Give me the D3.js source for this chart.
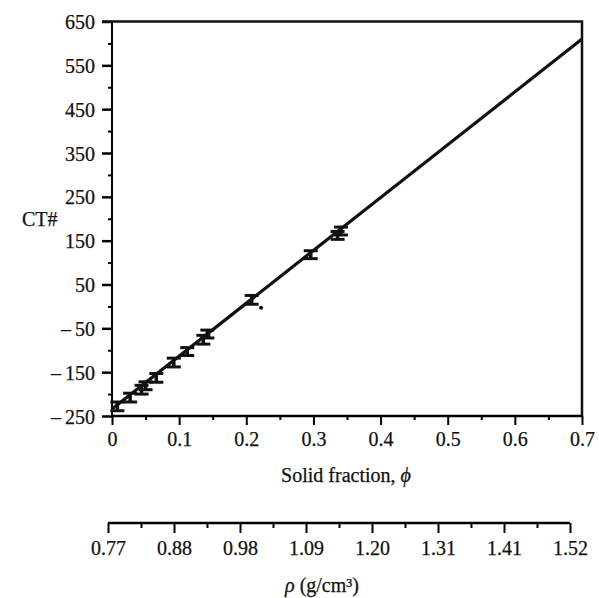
<!DOCTYPE html>
<html>
<head>
<meta charset="utf-8">
<script src="https://cdn.jsdelivr.net/npm/d3@7"></script>
<style>
  body { margin: 0; background: #fff; }
  svg text { font-family: "Liberation Serif", "DejaVu Serif", serif; fill: #111; stroke: #111; stroke-width: 0.25px; }
</style>
</head>
<body>
<div id="chart"></div>
<script>
// measured points: solid fraction, CT number, half error
const phi = [0.008, 0.027, 0.044, 0.050, 0.066, 0.092, 0.112, 0.136, 0.142, 0.208, 0.296, 0.336, 0.341];
const ctNum = [-228, -208, -190, -181, -163, -128, -103, -76, -63, 15, 118, 162, 172];
const ctErr = [10, 10, 10, 9, 10, 10, 9, 10, 9, 10, 9, 9, 9];

// stray single point without error bar
const strayPhi = [0.222];
const strayCt = [-3];

// fitted straight line end points
const fitPhi = [0, 0.7];
const fitCt = [-234, 610];

const yTicks = [650, 550, 450, 350, 250, 150, 50, -50, -150, -250];
const xTicks = [0, 0.1, 0.2, 0.3, 0.4, 0.5, 0.6, 0.7];
const rhoLabels = ["0.77", "0.88", "0.98", "1.09", "1.20", "1.31", "1.41", "1.52"];

const width = 599;
const height = 598;
const fs = 20;

const svg = d3.select("#chart")
  .append("svg")
  .attr("width", width)
  .attr("height", height);

// scales
const x = d3.scaleLinear().domain([0, 0.7]).range([112, 582]);
const y = d3.scaleLinear().domain([-250, 650]).range([416, 21.5]);
const rhoX = d3.scaleLinear().domain([0, rhoLabels.length - 1]).range([108, 570]);

// left axis, major + minor
const yMinor = yTicks.slice(1).map(v => v + 50);
svg.append("g")
  .attr("transform", "translate(112,0)")
  .call(d3.axisLeft(y).tickValues(yMinor).tickSize(4).tickFormat(""))
  .call(g => g.select(".domain").remove())
  .selectAll("line").attr("stroke-width", 2);

svg.append("g")
  .attr("transform", "translate(112,0)")
  .call(d3.axisLeft(y).tickValues(yTicks).tickSize(10).tickPadding(7)
    .tickFormat(d => d < 0 ? "\u2013\u2009" + Math.abs(d) : d))
  .call(g => g.select(".domain").attr("stroke-width", 2).attr("d", `M0,${y(650)}V${y(-250)}`))
  .call(g => g.selectAll("line").attr("stroke-width", 2.5))
  .call(g => g.selectAll("text").attr("font-size", fs).attr("dy", "0.35em"));

// bottom axis
const xMinor = xTicks.slice(1).map(v => v - 0.05);
svg.append("g")
  .attr("transform", `translate(0,${y(-250)})`)
  .call(d3.axisBottom(x).tickValues(xMinor).tickSize(4).tickFormat(""))
  .call(g => g.select(".domain").remove())
  .selectAll("line").attr("stroke-width", 2);

svg.append("g")
  .attr("transform", `translate(0,${y(-250)})`)
  .call(d3.axisBottom(x).tickValues(xTicks).tickSize(9).tickPadding(7)
    .tickFormat(d => d === 0 ? "0" : d3.format(".1f")(d)))
  .call(g => g.select(".domain").attr("stroke-width", 2.5).attr("d", `M${x(0)},0H${x(0.7)}`))
  .call(g => g.selectAll("line").attr("stroke-width", 2))
  .call(g => g.selectAll("text").attr("font-size", fs));

// top and right frame
svg.append("path")
  .attr("d", `M${x(0) - 10},${y(650)}H${x(0.7)}V${y(-250)}`)
  .attr("fill", "none")
  .attr("stroke", "#111")
  .attr("stroke-width", 2.5);

// fit line
svg.append("line")
  .attr("x1", x(fitPhi[0])).attr("y1", y(fitCt[0]))
  .attr("x2", x(fitPhi[1])).attr("y2", y(fitCt[1]))
  .attr("stroke", "#111")
  .attr("stroke-width", 3.2);

// error bars
const pts = phi.map((p, i) => ({ p, c: ctNum[i], e: ctErr[i] }));
const bars = svg.append("g").attr("stroke", "#111");
bars.selectAll("line.v")
  .data(pts).enter().append("line")
  .attr("class", "v")
  .attr("x1", d => x(d.p)).attr("x2", d => x(d.p))
  .attr("y1", d => y(d.c - d.e)).attr("y2", d => y(d.c + d.e))
  .attr("stroke-width", 3.5);
bars.selectAll("line.top")
  .data(pts).enter().append("line")
  .attr("class", "top")
  .attr("x1", d => x(d.p) - 7).attr("x2", d => x(d.p) + 7)
  .attr("y1", d => y(d.c + d.e)).attr("y2", d => y(d.c + d.e))
  .attr("stroke-width", 3);
bars.selectAll("line.bot")
  .data(pts).enter().append("line")
  .attr("class", "bot")
  .attr("x1", d => x(d.p) - 7).attr("x2", d => x(d.p) + 7)
  .attr("y1", d => y(d.c - d.e)).attr("y2", d => y(d.c - d.e))
  .attr("stroke-width", 3);

svg.selectAll("circle.stray")
  .data(strayPhi).enter().append("circle")
  .attr("class", "stray")
  .attr("cx", d => x(d))
  .attr("cy", (d, i) => y(strayCt[i]))
  .attr("r", 2)
  .attr("fill", "#111");

// axis titles
svg.append("text")
  .attr("x", 22).attr("y", 226)
  .attr("font-size", fs)
  .text("CT#");

svg.append("text")
  .attr("x", 346).attr("y", 482)
  .attr("text-anchor", "middle")
  .attr("font-size", fs)
  .html('Solid fraction, <tspan font-style="italic">\u03d5</tspan>');

// density axis
const rhoY = 523;
const rhoMinor = d3.range(rhoLabels.length - 1).map(i => i + 0.5);
svg.append("g")
  .attr("transform", `translate(0,${rhoY})`)
  .call(d3.axisBottom(rhoX).tickValues(rhoMinor).tickSize(5).tickFormat(""))
  .call(g => g.select(".domain").remove())
  .selectAll("line").attr("stroke-width", 2);

svg.append("g")
  .attr("transform", `translate(0,${rhoY})`)
  .call(d3.axisBottom(rhoX).tickValues(d3.range(rhoLabels.length)).tickSize(10).tickPadding(8)
    .tickFormat(i => rhoLabels[i]))
  .call(g => g.select(".domain").attr("stroke-width", 2.5).attr("d", `M${rhoX(0)},0H${rhoX(rhoLabels.length - 1)}`))
  .call(g => g.selectAll("line").attr("stroke-width", 2))
  .call(g => g.selectAll("text").attr("font-size", fs));

svg.append("text")
  .attr("x", 322).attr("y", 592)
  .attr("text-anchor", "middle")
  .attr("font-size", fs)
  .html('<tspan font-style="italic">\u03c1</tspan> (g/cm\u00b3)');
</script>
</body>
</html>
